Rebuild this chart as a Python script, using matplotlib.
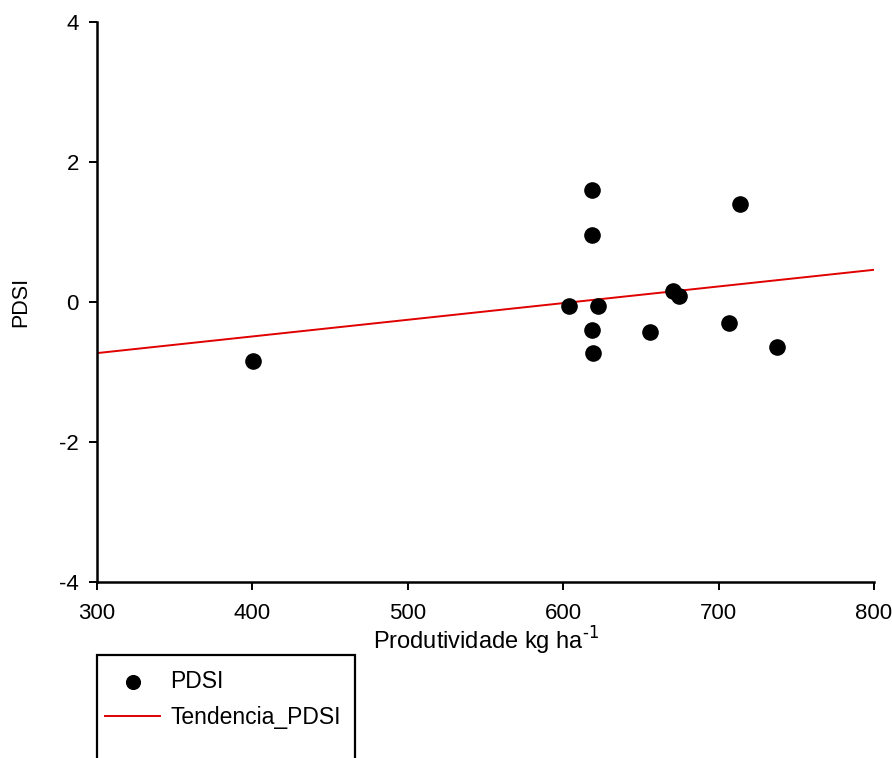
import matplotlib
matplotlib.use("Agg")
import matplotlib.pyplot as plt
from matplotlib.patches import Rectangle

plt.rcParams['font.family'] = ['Liberation Sans', 'DejaVu Sans']
plt.rcParams['axes.unicode_minus'] = False

# data
prod = [400.2, 603.7, 618.5, 618.5, 618.5, 619.2, 622.4, 655.9, 670.4, 674.7, 706.7, 713.8, 737.7]
pdsi = [-0.84, -0.06, 1.60, 0.96, -0.40, -0.73, -0.06, -0.43, 0.16, 0.09, -0.30, 1.40, -0.64]

# regression line endpoints
trend_x = [300, 800]
trend_y = [-0.73, 0.46]

xticks = [300, 400, 500, 600, 700, 800]
yticks = [-4, -2, 0, 2, 4]

W, H = 892, 758
fig = plt.figure(figsize=(W / 100, H / 100), dpi=100)
ax = fig.add_axes([97 / W, 1 - 582 / H, (874 - 97) / W, (582 - 22) / H])

ax.scatter(prod, pdsi, s=120, color='black', zorder=3, label='PDSI')
ax.plot(trend_x, trend_y, color='#e00000', lw=1.4, zorder=2, label='Tendencia_PDSI')

ax.set_xlim(300, 800)
ax.set_ylim(-4, 4)
ax.set_xticks(xticks)
ax.set_yticks(yticks)
ax.spines['top'].set_visible(False)
ax.spines['right'].set_visible(False)
for s in ['left', 'bottom']:
    ax.spines[s].set_linewidth(1.8)
ax.tick_params(axis='x', direction='out', length=6, width=1.4, pad=9)
ax.tick_params(axis='y', direction='out', length=6, width=1.4, pad=7)
for lab in ax.get_xticklabels() + ax.get_yticklabels():
    lab.set_family(['Liberation Sans Narrow', 'Liberation Sans'])
    lab.set_fontsize(16)

ax.set_xlabel(r'Produtividade kg ha$^{\text{-1}}$', fontsize=17, labelpad=1)
ax.set_ylabel('PDSI', fontsize=15.5, labelpad=20)

# legend frame runs off the bottom of the picture, as in the reference
fig.add_artist(Rectangle((97 / W, 1 - 775 / H), (355 - 97) / W, (775 - 655) / H,
                         transform=fig.transFigure, fill=False, lw=1.6, ec='black'))
leg = fig.legend(loc='upper left', bbox_to_anchor=(97 / W, 1 - 662 / H),
                 fontsize=16.5, frameon=False, borderpad=0.35, handlelength=2.4,
                 labelspacing=0.55, handletextpad=0.45, borderaxespad=0,
                 markerscale=0.9)

fig.savefig('out.png', dpi=100)
